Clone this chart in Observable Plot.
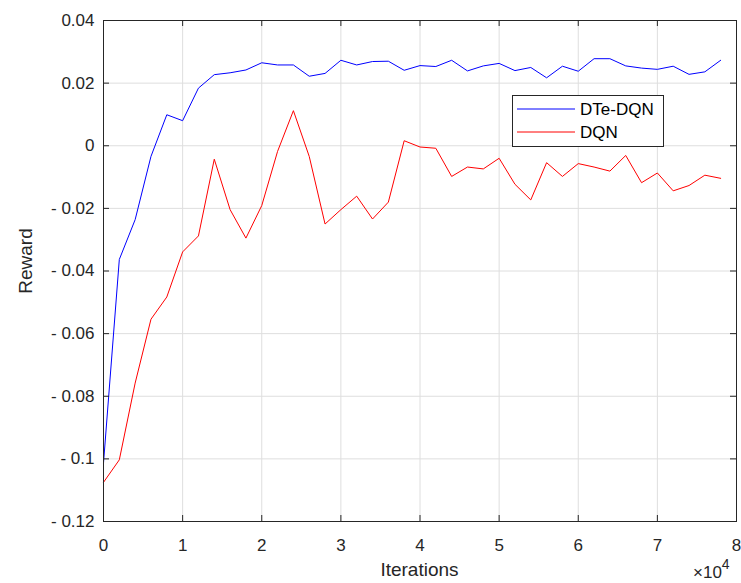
<!DOCTYPE html>
<html>
<head>
<meta charset="utf-8">
<script src="https://cdn.jsdelivr.net/npm/d3@7"></script>
<script src="https://cdn.jsdelivr.net/npm/@observablehq/plot@0.6"></script>
<style>
  html, body { margin: 0; padding: 0; background: #fff; }
  svg { display: block; }
</style>
</head>
<body>
<div id="chart"></div>
<script>
const iterations = [0, 2000, 4000, 6000, 8000, 10000, 12000, 14000, 16000, 18000,
  20000, 22000, 24000, 26000, 28000, 30000, 32000, 34000, 36000, 38000,
  40000, 42000, 44000, 46000, 48000, 50000, 52000, 54000, 56000, 58000,
  60000, 62000, 64000, 66000, 68000, 70000, 72000, 74000, 76000, 78000];

const dteDqn = [-0.1013, -0.0363, -0.0236, -0.0034, 0.0099, 0.0080, 0.0184, 0.0227, 0.0233, 0.0242,
  0.0265, 0.0258, 0.0258, 0.0222, 0.0231, 0.0273, 0.0258, 0.0269, 0.0270, 0.0241,
  0.0256, 0.0253, 0.0273, 0.0239, 0.0255, 0.0263, 0.0240, 0.0250, 0.0217, 0.0254,
  0.0238, 0.0278, 0.0278, 0.0255, 0.0248, 0.0244, 0.0254, 0.0228, 0.0236, 0.0273];

const dqn = [-0.1075, -0.1003, -0.0758, -0.0554, -0.0483, -0.0339, -0.0288, -0.0043, -0.0204, -0.0295,
  -0.0191, -0.0018, 0.0112, -0.0034, -0.0250, -0.0204, -0.0161, -0.0234, -0.0180, 0.0016,
  -0.0004, -0.0008, -0.0098, -0.0068, -0.0074, -0.0040, -0.0123, -0.0173, -0.0054, -0.0098,
  -0.0057, -0.0068, -0.0081, -0.0031, -0.0118, -0.0087, -0.0144, -0.0127, -0.0094, -0.0104];

const seriesNames = ["DTe-DQN", "DQN"];
const seriesColors = ["#0000ff", "#ff0000"];
const xTicks = [0, 10000, 20000, 30000, 40000, 50000, 60000, 70000, 80000];
const yTicks = [-0.12, -0.1, -0.08, -0.06, -0.04, -0.02, 0, 0.02, 0.04];
const xLabel = "Iterations";
const yLabel = "Reward";

const data = [
  ...iterations.map((it, i) => ({iter: it, reward: dteDqn[i], series: seriesNames[0]})),
  ...iterations.map((it, i) => ({iter: it, reward: dqn[i], series: seriesNames[1]}))
];

const W = 741, H = 583;
const mL = 103, mR = 5, mT = 20, mB = 62;
const pw = W - mL - mR, ph = H - mT - mB;
const tick = 6;
const axisColor = "#262626";
const font = "Liberation Sans, Arial, Helvetica, sans-serif";

const fmtY = d => {
  if (d === 0) return "0";
  const s = String(+Math.abs(d).toFixed(2));
  return d < 0 ? "- " + s : s;
};

const chart = Plot.plot({
  width: W, height: H,
  marginLeft: mL, marginRight: mR, marginTop: mT, marginBottom: mB,
  style: {fontFamily: font, fontSize: "17px", color: axisColor, background: "#fff"},
  x: {domain: [0, 80000]},
  y: {domain: [-0.12, 0.04]},
  color: {domain: seriesNames, range: seriesColors},
  marks: [
    Plot.gridX(xTicks, {stroke: "#dedede", strokeOpacity: 1}),
    Plot.gridY(yTicks, {stroke: "#dedede", strokeOpacity: 1}),
    Plot.line(data, {x: "iter", y: "reward", z: "series", stroke: "series", strokeWidth: 1}),
    Plot.frame({stroke: axisColor, strokeWidth: 1}),
    // inward ticks on all four sides
    Plot.tickY(yTicks, {y: d => d, stroke: axisColor, insetRight: pw - tick}),
    Plot.tickY(yTicks, {y: d => d, stroke: axisColor, insetLeft: pw - tick}),
    Plot.tickX(xTicks, {x: d => d, stroke: axisColor, insetTop: ph - tick}),
    Plot.tickX(xTicks, {x: d => d, stroke: axisColor, insetBottom: ph - tick}),
    Plot.axisX(xTicks, {tickSize: 0, tickPadding: 17, tickFormat: d => String(d / 10000), label: null, fontSize: 17, fill: axisColor}),
    Plot.axisY(yTicks, {tickSize: 0, tickPadding: 9, tickFormat: fmtY, label: null, fontSize: 17, fill: axisColor})
  ]
});

const svg = d3.select(chart);
const lab = svg.append("g").attr("font-family", font).attr("fill", axisColor).attr("text-anchor", "middle");
// axis titles
lab.append("text").attr("x", mL + pw / 2).attr("y", 576).attr("font-size", 19).text(xLabel);
lab.append("text").attr("transform", `translate(32,261) rotate(-90)`).attr("font-size", 19).text(yLabel);
// exponent marker
const ex = lab.append("text").attr("x", 693).attr("y", 578).attr("font-size", 17).attr("text-anchor", "start");
ex.append("tspan").text("\u00d710");
ex.append("tspan").attr("dy", -9).attr("font-size", 14).text("4");

// legend box (MATLAB-style)
const lg = svg.append("g").attr("font-family", font).attr("font-size", 17).attr("fill", "#000").attr("text-anchor", "start");
const lx = 512, ly = 95, lw = 151, lh = 51;
lg.append("rect").attr("x", lx + 0.5).attr("y", ly + 0.5).attr("width", lw).attr("height", lh)
  .attr("fill", "#fff").attr("stroke", "#262626").attr("stroke-width", 1);
seriesNames.forEach((name, i) => {
  const yy = ly + 14 + i * 23;
  lg.append("line").attr("x1", lx + 5).attr("x2", lx + 63).attr("y1", yy).attr("y2", yy)
    .attr("stroke", seriesColors[i]).attr("stroke-width", 1);
  lg.append("text").attr("x", lx + 68).attr("y", yy).attr("dy", "0.35em").text(name);
});

document.getElementById("chart").appendChild(chart);
</script>
</body>
</html>
